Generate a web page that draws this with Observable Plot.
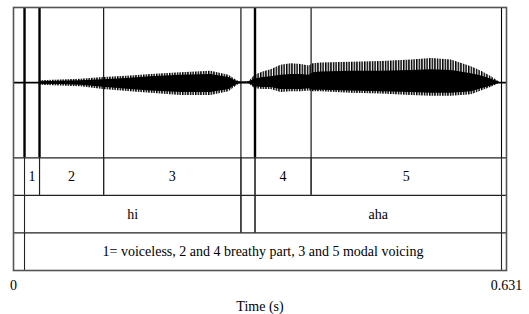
<!DOCTYPE html>
<html>
<head>
<meta charset="utf-8">
<script src="https://cdn.jsdelivr.net/npm/d3@7"></script>
<script src="https://cdn.jsdelivr.net/npm/@observablehq/plot@0.6"></script>
<style>
  html, body { margin: 0; padding: 0; background: #fff; }
  svg, svg text { font-family: "Liberation Serif", "Times New Roman", serif !important; }
</style>
</head>
<body>
<div id="chart"></div>
<script>
// Waveform amplitude envelope (time in s, relative amplitude)
const envT = [0.0333,0.0603,0.0859,0.1154,0.1501,0.1757,0.2142,0.2527,0.2757,0.2860,0.2911,0.3014,0.3091,0.3194,0.3296,0.3424,0.3553,0.3681,0.3784,0.3835,0.3937,0.4322,0.4707,0.5092,0.5348,0.5605,0.5861,0.5989,0.6118,0.6220];
const envUpper = [0.025,0.035,0.045,0.07,0.09,0.11,0.13,0.15,0.10,0.03,0.01,0.015,0.10,0.14,0.17,0.23,0.25,0.24,0.22,0.25,0.26,0.27,0.28,0.30,0.32,0.30,0.21,0.15,0.08,0.01];
const envLower = [-0.035,-0.045,-0.055,-0.09,-0.12,-0.14,-0.17,-0.17,-0.12,-0.04,-0.01,-0.015,-0.08,-0.09,-0.09,-0.13,-0.12,-0.12,-0.11,-0.12,-0.12,-0.14,-0.15,-0.17,-0.18,-0.18,-0.16,-0.11,-0.06,-0.01];
const coreUpper = [0.012,0.018,0.025,0.04,0.06,0.08,0.10,0.11,0.07,0.015,0.005,0.01,0.05,0.07,0.08,0.10,0.11,0.11,0.10,0.13,0.14,0.15,0.15,0.16,0.17,0.16,0.12,0.09,0.045,0.005];
const coreLower = [-0.02,-0.025,-0.035,-0.06,-0.09,-0.11,-0.13,-0.13,-0.09,-0.025,-0.005,-0.01,-0.055,-0.065,-0.065,-0.09,-0.09,-0.09,-0.08,-0.10,-0.10,-0.11,-0.12,-0.13,-0.14,-0.14,-0.12,-0.08,-0.045,-0.005];

// Boundaries drawn through the waveform
const waveBoundsBold = [0.0141, 0.0333, 0.3091];
const waveBoundsThin = [0.1154, 0.2911, 0.3809, 0.6246];

// TextGrid tiers: interval starts, ends, labels
const tier1Start = [0.0141, 0.0333, 0.1154, 0.2911, 0.3091, 0.3809];
const tier1End   = [0.0333, 0.1154, 0.2911, 0.3091, 0.3809, 0.6246];
const tier1Text  = ["1", "2", "3", "", "4", "5"];
const tier2Start = [0.0141, 0.2911, 0.3091];
const tier2End   = [0.2911, 0.3091, 0.6246];
const tier2Text  = ["hi", "", "aha"];
const tier3Start = [0.0141];
const tier3End   = [0.6246];
const tier3Text  = ["1= voiceless, 2 and 4 breathy part, 3 and 5 modal voicing"];

const duration = 0.631;
const tickValues = [0, 0.631];
const tickLabels = ["0", "0.631"];

const serif = "'Liberation Serif', 'Times New Roman', serif";

const env = envT.map((t, i) => ({t, up: envUpper[i], lo: envLower[i], cu: coreUpper[i], cl: coreLower[i]}));
const tiers = [
  [tier1Start, tier1End, tier1Text],
  [tier2Start, tier2End, tier2Text],
  [tier3Start, tier3End, tier3Text]
].flatMap(([s, e, txt], k) => s.map((v, i) => ({k, start: v, end: e[i], text: txt[i],
  top: -1 - 0.5 * k, bottom: -1.5 - 0.5 * k, mid: -1.25 - 0.5 * k})));

const tierLines = [-1, -1.5, -2];

const chart = Plot.plot({
  width: 529,
  height: 314,
  marginLeft: 13,
  marginRight: 23,
  marginTop: 7,
  marginBottom: 44,
  style: {fontFamily: serif, fontSize: "14px", background: "#fff", color: "#000"},
  x: {domain: [0, duration]},
  y: {domain: [-2.5, 1], axis: null},
  marks: [
    Plot.areaY(env, {x: "t", y1: "lo", y2: "up", fill: "url(#wavestripes)", curve: "linear"}),
    Plot.areaY(env, {x: "t", y1: "cl", y2: "cu", fill: "#000", curve: "linear"}),
    Plot.ruleY([0], {x1: 0, x2: duration, stroke: "#000", strokeWidth: 1.6}),
    Plot.ruleX(waveBoundsBold, {y1: -1, y2: 1, stroke: "#000", strokeWidth: 2.4}),
    Plot.ruleX(waveBoundsThin, {y1: -1, y2: 1, stroke: "#000", strokeWidth: 1.1}),
    Plot.ruleY(tierLines, {x1: 0, x2: duration, stroke: "#222", strokeWidth: 1.3}),
    Plot.ruleX(tiers, {x: "start", y1: "top", y2: "bottom", stroke: "#222", strokeWidth: 1.1}),
    Plot.ruleX(tiers, {x: "end", y1: "top", y2: "bottom", stroke: "#222", strokeWidth: 1.1}),
    Plot.text(tiers, {x: d => (d.start + d.end) / 2, y: "mid", text: "text", fill: "#000", fontSize: 14, fontFamily: serif}),
    Plot.frame({stroke: "#555", strokeWidth: 1.6}),
    Plot.axisX({ticks: tickValues, tickSize: 0, tickPadding: 10, tickFormat: d => tickLabels[tickValues.indexOf(d)],
      label: "Time (s)", labelAnchor: "center", labelOffset: 40, labelArrow: false, fontSize: 14, fontFamily: serif})
  ]
});

const defs = d3.create("svg:defs");
const pat = defs.append("pattern").attr("id", "wavestripes").attr("patternUnits", "userSpaceOnUse")
  .attr("width", 2.6).attr("height", 20);
pat.append("rect").attr("width", 1.5).attr("height", 20).attr("fill", "#000");
chart.insertBefore(defs.node(), chart.firstChild);

document.getElementById("chart").appendChild(chart);
</script>
</body>
</html>
